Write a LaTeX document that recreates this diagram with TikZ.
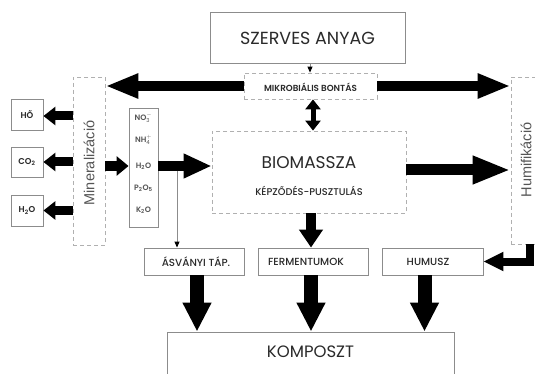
\documentclass[tikz,border=0pt]{standalone}
\usepackage{fontspec}
\setmainfont{Poppins}
\IfFontExistsTF{Poppins Medium}{\newfontfamily\popm{Poppins Medium}}{\newfontfamily\popm{Poppins}}
\IfFontExistsTF{Poppins SemiBold}{\newfontfamily\pops{Poppins SemiBold}}{\newfontfamily\pops{Poppins}[UprightFont=*, BoldFont=* Bold]}
\newfontfamily\helv{Liberation Sans}
\usetikzlibrary{arrows.meta,calc}
\definecolor{boxgray}{HTML}{8C8C8C}
\definecolor{dashgray}{HTML}{B0B0B0}
\definecolor{txt}{HTML}{2A2A2A}
\definecolor{ltxt}{HTML}{555555}
\newcommand{\fs}[1]{\fontsize{#1}{#1}\selectfont}
\begin{document}
\begin{tikzpicture}[x=1pt,y=-1pt,
  solidbox/.style={draw=boxgray, line width=0.9pt, inner sep=0pt, fill=white},
  dashbox/.style={draw=dashgray, line width=0.8pt, dash pattern=on 4pt off 3pt, inner sep=0pt},
  lbl/.style={text=txt, inner sep=0pt},
  vlbl/.style={text=ltxt, inner sep=0pt, rotate=90, font=\helv\fs{14.5}},
  bigarrow/.style={line width=10pt, -{Triangle[length=33pt,width=23pt]}},
  medarrow/.style={line width=10pt, -{Triangle[length=28pt,width=23pt]}},
  smallarrow/.style={line width=9pt, -{Triangle[length=12pt,width=18pt]}},
  downarrow/.style={line width=14pt, -{Triangle[length=29pt,width=27pt]}},
  thinarrow/.style={boxgray, line width=0.9pt, -{Triangle[length=6pt,width=5pt,color=black]}},
  ionlbl/.style={text=ltxt, inner sep=0pt, font=\pops\fs{7.8}},
]
\clip (0,0) rectangle (535,374);
\useasboundingbox (0,0) rectangle (535,374);
\fill[white] (0,0) rectangle (535,374);

% boxes
\node[solidbox, minimum width=195pt, minimum height=51pt] (szerves) at (307.5,37.5) {};
\node[dashbox, minimum width=133pt, minimum height=26pt] (mikro) at (310.5,86) {};
\node[dashbox, minimum width=194pt, minimum height=82pt] (bio) at (309,172) {};
\node[dashbox, minimum width=32pt, minimum height=168pt] (miner) at (89,161) {};
\node[dashbox, minimum width=34pt, minimum height=167pt] (humif) at (528,160.5) {};
\node[solidbox, minimum width=32pt, minimum height=31pt] (ho) at (27,114.5) {};
\node[solidbox, minimum width=32pt, minimum height=30pt] (co) at (27,162) {};
\node[solidbox, minimum width=32pt, minimum height=31pt] (hh) at (27,210.5) {};
\node[solidbox, minimum width=29pt, minimum height=119pt] (ion) at (143.5,167.5) {};
\node[solidbox, minimum width=100pt, minimum height=27pt] (asv) at (194,261.5) {};
\node[solidbox, minimum width=110pt, minimum height=27pt] (ferm) at (313,261.5) {};
\node[solidbox, minimum width=101pt, minimum height=27pt] (hum) at (432.5,261.5) {};
\node[solidbox, minimum width=287pt, minimum height=48pt] (komp) at (310.5,356) {};

% texts
\node[lbl, font=\fs{17.5}] (tszerves) at (307.5,38) {SZERVES ANYAG};
\node[lbl, font=\pops\fs{8.8}] (tmikro) at (310.5,87) {MIKROBIÁLIS BONTÁS};
\node[lbl, font=\fs{17}] (tbio) at (309,163) {BIOMASSZA};
\node[lbl, font=\popm\fs{9.8}] (tkep) at (309,191) {KÉPZŐDÉS-PUSZTULÁS};
\node[vlbl] (tminer) at (89,163) {Mineralizáció};
\node[vlbl] (thumif) at (526,160) {Humifikáció};
\node[lbl, font=\pops\fs{8.5}] (tho) at (27,114.5) {HŐ};
\node[lbl, font=\pops\fs{8.5}] (tco) at (27,162) {CO\textsubscript{2}};
\node[lbl, font=\pops\fs{8.5}] (thh) at (27,210.5) {H\textsubscript{2}O};
\node[ionlbl] (iNO) at (143.5,118) {NO$_{\mathrm{3}}^{-}$};
\node[ionlbl] (iNH) at (143.5,140) {NH$_{\mathrm{4}}^{+}$};
\node[ionlbl] (iH) at (143.5,166) {H\textsubscript{2}O};
\node[ionlbl] (iP) at (143.5,188) {P\textsubscript{2}O\textsubscript{5}};
\node[ionlbl] (iK) at (143.5,210) {K\textsubscript{2}O};
\node[lbl, font=\popm\fs{10.3}] (tasv) at (196,262) {ÁSVÁNYI TÁP.};
\node[lbl, font=\popm\fs{10.3}] (tferm) at (306,262) {FERMENTUMOK};
\node[lbl, font=\popm\fs{10.3}] (thum) at (428,262) {HUMUSZ};
\node[lbl, font=\fs{16.5}] (tkomp) at (310.5,352) {KOMPOSZT};

% connectors
\draw[thinarrow]
  ([xshift=2.5pt]szerves.south) -- ([xshift=2.5pt]szerves.south |- mikro.north);
\draw[bigarrow] (mikro.west) -- (mikro.west -| miner.east);
\draw[bigarrow] (mikro.east) -- (mikro.east -| humif.west);
\draw[line width=5pt, {Triangle[length=10pt,width=15pt]}-{Triangle[length=10pt,width=15pt]}]
  ([xshift=2.5pt]mikro.south) -- ([xshift=2.5pt]mikro.south |- bio.north);
\draw[line width=11pt, -{Triangle[length=38pt,width=26pt]}]
  ($(bio.east)+(0,-2)$) -- ($(bio.east -| humif.west)+(0,-2)$);
\draw[line width=10pt, -{Triangle[length=12pt,width=19pt]}] (miner.east |- iH) -- (ion.west |- iH);
\draw[medarrow] (ion.east |- iH) -- (bio.west |- iH);
\coordinate (tstart) at (177,171);
\draw[thinarrow] (tstart) -- (tstart |- asv.north);
\draw[smallarrow] ($(miner.west |- ho)+(0,1.5)$) -- ($(ho.east)+(0,1.5)$);
\draw[smallarrow] (miner.west |- co) -- (co.east);
\draw[smallarrow] (miner.west |- hh) -- (hh.east);
\draw[line width=10pt, -{Triangle[length=18pt,width=23pt]}]
  ($(bio.south)+(2,0)$) -- ($(bio.south |- ferm.north)+(2,0)$);
\draw[downarrow] ($(asv.south)+(3,0)$) -- ($(asv.south |- komp.north)+(3,0)$);
\draw[downarrow] ($(ferm.south)+(-2,0)$) -- ($(ferm.south |- komp.north)+(-2,0)$);
\draw[downarrow] ($(hum.south)+(-8,0)$) -- ($(hum.south |- komp.north)+(-8,0)$);
\draw[line width=8pt, line join=miter, -{Triangle[length=20pt,width=18pt]}]
  (humif.south -| 530,0) |- (hum.east);
\end{tikzpicture}
\end{document}
